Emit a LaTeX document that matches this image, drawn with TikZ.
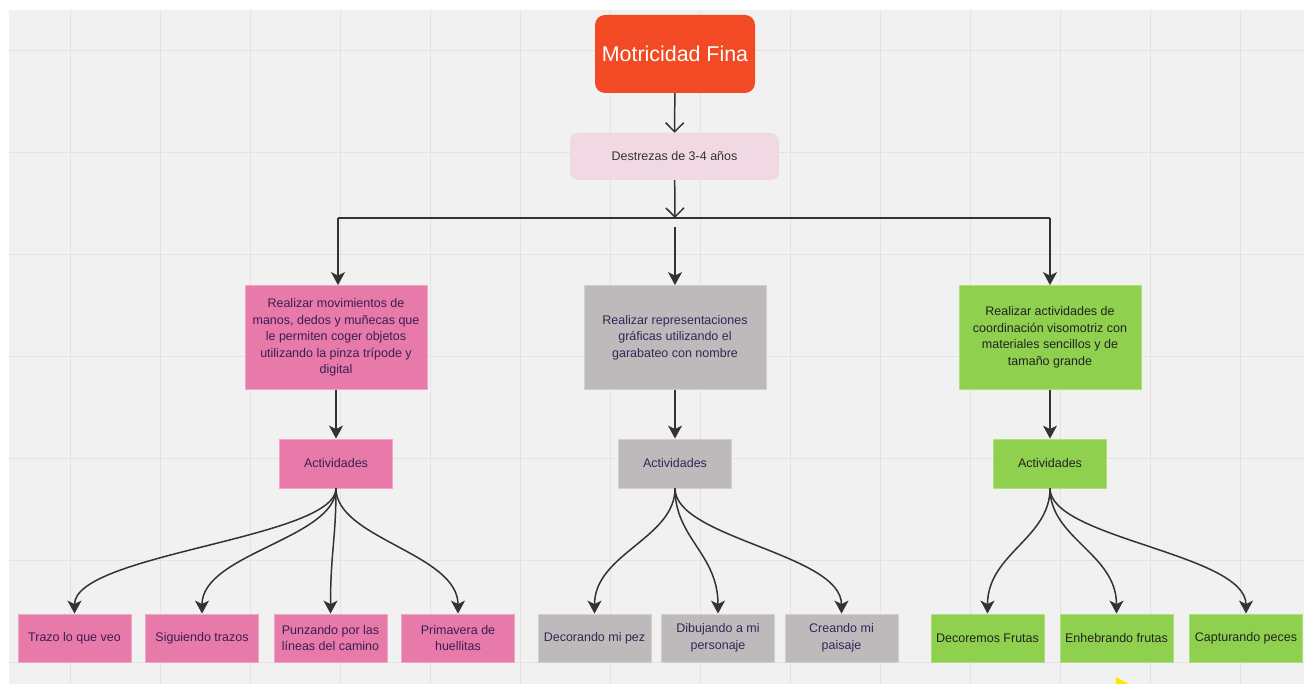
\documentclass[tikz,border=0pt]{standalone}
\usepackage{fontspec}
\setmainfont{Liberation Sans}
\usetikzlibrary{arrows.meta}
\definecolor{fondo}{HTML}{F1F1F1}
\definecolor{rejilla}{HTML}{E3E3E3}
\definecolor{naranja}{HTML}{F24A25}
\definecolor{rosaclaro}{HTML}{F0D9E3}
\definecolor{rosa}{HTML}{E87AAA}
\definecolor{rosaborde}{HTML}{F2A6C7}
\definecolor{gris}{HTML}{BEBABB}
\definecolor{grisborde}{HTML}{D2CFD0}
\definecolor{verde}{HTML}{8FD14F}
\definecolor{verdeborde}{HTML}{ADDF7E}
\definecolor{morado}{HTML}{3A1E52}
\definecolor{marino}{HTML}{2B2A58}
\definecolor{oscuro}{HTML}{222222}
\definecolor{linea}{HTML}{333333}

\begin{document}
\begin{tikzpicture}[x=1pt,y=-1pt,
  caja/.style={inner sep=0pt, align=center, line width=0.8pt,
    font=\fontsize{12.5}{16.5}\selectfont},
  cajarosa/.style={caja, fill=rosa, draw=rosaborde, text=morado},
  cajagris/.style={caja, fill=gris, draw=grisborde, text=marino},
  cajaverde/.style={caja, fill=verde, draw=verdeborde, text=oscuro},
  grande/.style={minimum width=182pt, minimum height=104pt},
  activ/.style={minimum width=113pt, minimum height=49pt},
  hoja/.style={minimum width=113pt, minimum height=48pt},
  flecha/.style={draw=linea, line width=1.5pt, -{Stealth[length=13pt,width=14pt,inset=3.5pt]}},
  flechaabierta/.style={draw=linea, line width=1.5pt, -{Straight Barb[length=9pt,width=18pt]}},
  curva/.style={flecha}]

% fondo y rejilla
\useasboundingbox (0,0) rectangle (1304,684);
\fill[white] (0,0) rectangle (1304,684);
\fill[fondo] (9,10) rectangle (1304,684);
\foreach \i in {0,...,13}
  \draw[rejilla, line width=1.5pt] ({70.7+90*\i},10) -- ({70.7+90*\i},684);
\foreach \j in {0,...,6}
  \draw[rejilla, line width=1.5pt] (9,{50.7+102*\j}) -- (1304,{50.7+102*\j});

% titulo
\node[fill=naranja, rounded corners=10pt, minimum width=160pt, minimum height=78pt,
  text=white, font=\fontsize{21.4}{25}\selectfont] (titulo) at (675,54) {Motricidad Fina};
\node[fill=rosaclaro, rounded corners=8pt, minimum width=209pt, minimum height=47pt,
  text=linea, font=\fontsize{12.5}{16.5}\selectfont] (destrezas) at (674.5,156.5) {Destrezas de 3-4 años};

% objetivos
\node[cajarosa, grande] (objA) at (336,337.5) {Realizar movimientos de\\manos, dedos y muñecas que\\le permiten coger objetos\\utilizando la pinza trípode y\\digital};
\node[cajagris, grande] (objB) at (675,337.5) {Realizar representaciones\\gráficas utilizando el\\garabateo con nombre};
\node[cajaverde, grande] (objC) at (1050,337.5) {Realizar actividades de\\coordinación visomotriz con\\materiales sencillos y de\\tamaño grande};

% actividades
\node[cajarosa, activ] (actA) at (336,463.5) {Actividades};
\node[cajagris, activ] (actB) at (675,463.5) {Actividades};
\node[cajaverde, activ] (actC) at (1050,463.5) {Actividades};

% hojas
\node[cajarosa, hoja] (trazo) at (74.5,638) {Trazo lo que veo};
\node[cajarosa, hoja] (siguiendo) at (202,638) {Siguiendo trazos};
\node[cajarosa, hoja] (punzando) at (330.5,638) {Punzando por las\\líneas del camino};
\node[cajarosa, hoja] (primavera) at (458,638) {Primavera de\\huellitas};
\node[cajagris, hoja] (pez) at (594.5,638) {Decorando mi pez};
\node[cajagris, hoja] (personaje) at (718,638) {Dibujando a mi\\personaje};
\node[cajagris, hoja] (paisaje) at (841.5,638) {Creando mi\\paisaje};
\node[cajaverde, hoja] (frutas) at (987.5,638) {Decoremos Frutas};
\node[cajaverde, hoja] (enhebrando) at (1116.5,638) {Enhebrando frutas};
\node[cajaverde, hoja] (peces) at (1246,638) {Capturando peces};

% ramas
\coordinate (ramaA) at (338,218);
\coordinate (ramaM) at (675,218);
\coordinate (ramaB) at (675,227);
\coordinate (ramaC) at (1050,218);

\draw[flechaabierta] (titulo) -- (destrezas);
\draw[flechaabierta] (destrezas) -- (ramaM);
\draw[draw=linea, line width=1.5pt] (ramaA) -- (ramaC);
\draw[flecha] (ramaA) -- (objA.north -| ramaA);
\draw[flecha] (ramaB) -- (objB);
\draw[flecha] (ramaC) -- (objC);

\draw[flecha] (objA) -- (actA);
\draw[flecha] (objB) -- (actB);
\draw[flecha] (objC) -- (actC);

\foreach \n in {trazo,siguiendo,punzando,primavera}
  \draw[curva] (actA.south) .. controls +(0,50) and +(0,-60) .. (\n.north);
\foreach \n in {pez,personaje,paisaje}
  \draw[curva] (actB.south) .. controls +(0,50) and +(0,-60) .. (\n.north);
\foreach \n in {frutas,enhebrando,peces}
  \draw[curva] (actC.south) .. controls +(0,50) and +(0,-60) .. (\n.north);

% puntero
\fill[yellow!90!orange] (1116,677) -- (1129,684) -- (1116,684) -- cycle;
\end{tikzpicture}
\end{document}
